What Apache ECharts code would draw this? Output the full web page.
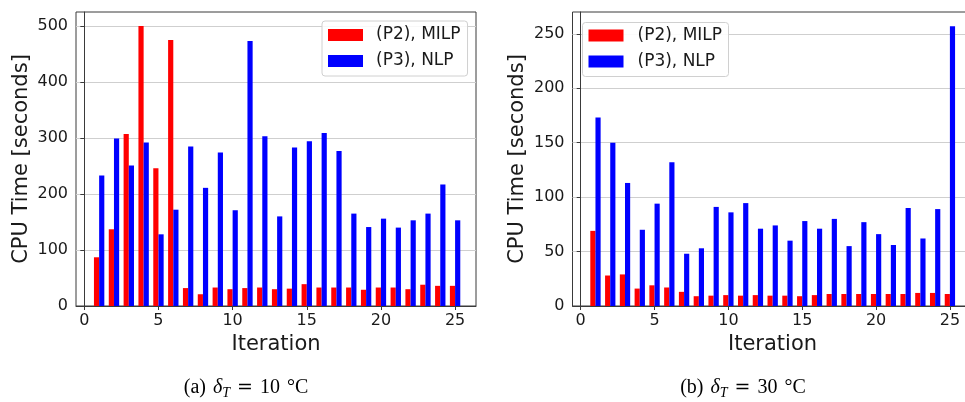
<!DOCTYPE html>
<html>
<head>
<meta charset="utf-8">
<script src="https://cdn.jsdelivr.net/npm/echarts@6/dist/echarts.min.js"></script>
<style>
html,body{margin:0;padding:0;background:#fff;}
#chart{width:965px;height:402px;}
</style>
</head>
<body>
<div id="chart"></div>
<script>
// ---- data ----
var iterations = [1,2,3,4,5,6,7,8,9,10,11,12,13,14,15,16,17,18,19,20,21,22,23,24,25];
// (a) delta_T = 10 C
var milp10 = [87,137,307,500,246,475,32,21,33,30,32,33,30,31,39,33,33,33,29,33,33,30,38,36,36];
var nlp10  = [233,299,251,292,128,172,285,211,274,171,473,303,160,283,294,309,277,165,141,156,140,153,165,217,153];
// (b) delta_T = 30 C
var milp30 = [69,28,29,16,19,17,13,9,9.5,10,9.5,10,9.5,9.5,9,10,11,11,11,11,11,11,12,12,11];
var nlp30  = [173,150,113,70,94,132,48,53,91,86,94.5,71,74,60,78,71,80,55,77,66,56,90,62,89,257];
var xTicks = [0,5,10,15,20,25];
var yTicksA = [0,100,200,300,400,500];
var yTicksB = [0,50,100,150,200,250];
var seriesNames = ['(P2), MILP', '(P3), NLP'];
var captionA = '(a)';
var captionB = '(b)';
var captionValA = '10';
var captionValB = '30';

var RED = '#ff0000', BLUE = '#0000ff', FRAME = '#3a3a3a', GRIDC = '#cfcfcf', TXT = '#1a1a1a';
var FONT = 'DejaVu Sans';

function pairs(vals){ return iterations.map(function(it,i){ return [it, vals[i]]; }); }

function xAxisCfg(idx, min, max){
  return {
    type:'value', gridIndex:idx, min:min, max:max,
    name:'Iteration', nameLocation:'middle', nameGap:27,
    nameTextStyle:{fontFamily:FONT, fontSize:21, color:TXT},
    axisLine:{show:true, lineStyle:{color:FRAME, width:1}},
    axisTick:{show:true, length:4, lineStyle:{color:FRAME}, customValues:xTicks},
    axisLabel:{fontFamily:FONT, fontSize:16, color:TXT, margin:7, customValues:xTicks},
    splitLine:{show:false}
  };
}
function yAxisCfg(idx, max, interval, ticks){
  return {
    type:'value', gridIndex:idx, min:0, max:max, interval:interval,
    name:'CPU Time [seconds]', nameLocation:'middle', nameGap:44,
    nameTextStyle:{fontFamily:FONT, fontSize:21, color:TXT},
    axisLine:{show:true, lineStyle:{color:FRAME, width:1}},
    axisTick:{show:true, length:4, lineStyle:{color:FRAME}, customValues:ticks},
    axisLabel:{fontFamily:FONT, fontSize:16, color:TXT, margin:8, customValues:ticks},
    splitLine:{show:true, lineStyle:{color:GRIDC, width:1}}
  };
}

function captionRich(){
  return {
    n:{fontFamily:'Liberation Serif', fontSize:20, color:TXT, lineHeight:24},
    d:{fontFamily:'Liberation Serif', fontStyle:'italic', fontSize:20, color:TXT, lineHeight:24, padding:[0,0,0,7]},
    s:{fontFamily:'Liberation Serif', fontStyle:'italic', fontSize:14, color:TXT, lineHeight:24, verticalAlign:'bottom'},
    e:{fontFamily:'DejaVu Serif', fontSize:19, color:TXT, lineHeight:24, padding:[0,7,0,7]},
    o:{fontFamily:'Liberation Serif', fontSize:20, color:TXT, lineHeight:24, padding:[0,0,0,7]}
  };
}

var chart = echarts.init(document.getElementById('chart'), null, {renderer:'canvas'});
chart.setOption({
  animation:false,
  backgroundColor:'#ffffff',
  grid:[
    {left:76, top:12, width:400, height:294, outerBoundsMode:'none', containLabel:false, show:true, borderColor:FRAME, borderWidth:1, backgroundColor:'transparent'},
    {left:572.5, top:12, width:400, height:294, outerBoundsMode:'none', containLabel:false, show:true, borderColor:FRAME, borderWidth:1, backgroundColor:'transparent'}
  ],
  xAxis:[ xAxisCfg(0, -0.56, 26.41), xAxisCfg(1, -0.555, 26.53) ],
  yAxis:[ yAxisCfg(0, 525, 100, yTicksA), yAxisCfg(1, 270, 50, yTicksB) ],
  legend:[{
    left:322, top:21, orient:'vertical',
    itemWidth:35, itemHeight:12, itemGap:6,
    padding:[4,7,5,6],
    backgroundColor:'rgba(255,255,255,0.85)', borderColor:'#d0d0d0', borderWidth:1, borderRadius:3,
    textStyle:{fontFamily:FONT, fontSize:17, color:TXT, lineHeight:20, padding:[0,0,0,8]},
    icon:'rect',
    data:[{name:seriesNames[0]},{name:seriesNames[1]}]
  }],
  series:[
    {name:seriesNames[0], type:'bar', xAxisIndex:0, yAxisIndex:0, data:pairs(milp10), barWidth:'35%', barGap:'0%', itemStyle:{color:RED}},
    {name:seriesNames[1], type:'bar', xAxisIndex:0, yAxisIndex:0, data:pairs(nlp10), barWidth:'35%', barGap:'0%', itemStyle:{color:BLUE}},
    {name:seriesNames[0], type:'bar', xAxisIndex:1, yAxisIndex:1, data:pairs(milp30), barWidth:'35%', barGap:'0%', itemStyle:{color:RED}},
    {name:seriesNames[1], type:'bar', xAxisIndex:1, yAxisIndex:1, data:pairs(nlp30), barWidth:'35%', barGap:'0%', itemStyle:{color:BLUE}}
  ],
  graphic:[
    // legend box of the right panel (same entries as the left legend)
    {type:'group', left:582, top:22, z:100, children:[
      {type:'rect', z:100, shape:{x:0,y:0,width:146,height:54,r:3}, style:{fill:'rgba(255,255,255,0.9)', stroke:'#d0d0d0', lineWidth:1}},
      {type:'rect', z:101, shape:{x:6,y:7,width:35,height:12}, style:{fill:RED}},
      {type:'text', z:101, x:55, y:13, style:{text:seriesNames[0], font:'17px "DejaVu Sans"', fill:TXT, verticalAlign:'middle'}},
      {type:'rect', z:101, shape:{x:6,y:33,width:35,height:12}, style:{fill:BLUE}},
      {type:'text', z:101, x:55, y:39, style:{text:seriesNames[1], font:'17px "DejaVu Sans"', fill:TXT, verticalAlign:'middle'}}
    ]},
    {type:'text', z:100, x:246, y:388, style:{
      text:'{n|'+captionA+'}{d|δ}{s|T}{e|=}{n|'+captionValA+'}{o|°C}',
      align:'center', verticalAlign:'middle', rich:captionRich()
    }},
    {type:'text', z:100, x:743, y:388, style:{
      text:'{n|'+captionB+'}{d|δ}{s|T}{e|=}{n|'+captionValB+'}{o|°C}',
      align:'center', verticalAlign:'middle', rich:captionRich()
    }}
  ]
});
</script>
</body>
</html>
